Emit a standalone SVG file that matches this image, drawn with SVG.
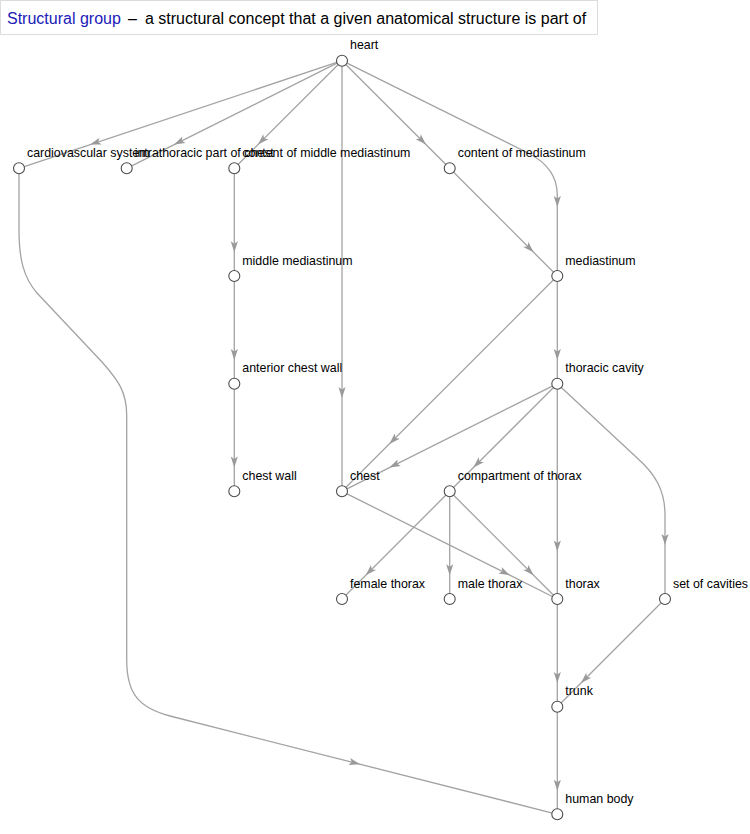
<svg xmlns="http://www.w3.org/2000/svg" xmlns:xlink="http://www.w3.org/1999/xlink" width="750" height="834" viewBox="0 0 750 834">
<style>
.e{fill:none;stroke:#a3a3a3;stroke-width:1.3}
.a{fill:#9a9a9a}
.n circle{fill:#fff;stroke:#4d4d4d;stroke-width:1.1}
.n text{font-family:"Liberation Sans",Arial,Helvetica,sans-serif;font-size:12.4px;fill:#000}
.t{font-family:"Liberation Sans",Arial,Helvetica,sans-serif;font-size:16px}
</style>
<defs>
<path id="ah" d="M0,0 L-11,-3.6 L-8.5,0 L-11,3.6 Z"/>
</defs>
<g id="title">
<rect x="0.5" y="0.5" width="597" height="34" fill="#fff" stroke="#dcdcdc"/>
<text class="t" x="7" y="24" fill="#2020b8">Structural group</text>
<text class="t" x="128" y="24" fill="#000">–</text>
<text class="t" x="145" y="24" fill="#000">a structural concept that a given anatomical structure is part of</text>
</g>
<g id="edges">
<path class="e" d="M342,60.7 L19,168.3"/>
<path class="e" d="M342,60.7 L126.7,168.3"/>
<path class="e" d="M342,60.7 L234.3,168.3"/>
<path class="e" d="M342,60.7 L342,491.3"/>
<path class="e" d="M342,60.7 L449.7,168.3"/>
<path class="e" d="M342,60.7 L528,153 C548,163 557.3,178 557.3,195 L557.3,276"/>
<path class="e" d="M234.3,168.3 L234.3,276"/>
<path class="e" d="M234.3,276 L234.3,383.7"/>
<path class="e" d="M234.3,383.7 L234.3,491.3"/>
<path class="e" d="M449.7,168.3 L557.3,276"/>
<path class="e" d="M557.3,276 L557.3,383.7"/>
<path class="e" d="M557.3,276 L342,491.3"/>
<path class="e" d="M557.3,383.7 L342,491.3"/>
<path class="e" d="M557.3,383.7 L449.7,491.3"/>
<path class="e" d="M557.3,383.7 L557.3,599"/>
<path class="e" d="M557.3,383.7 L638,458.7 C655,474 665,490 665,515 L665,599"/>
<path class="e" d="M342,491.3 L557.3,599"/>
<path class="e" d="M449.7,491.3 L342,599"/>
<path class="e" d="M449.7,491.3 L449.7,599"/>
<path class="e" d="M449.7,491.3 L557.3,599"/>
<path class="e" d="M557.3,599 L557.3,706.7"/>
<path class="e" d="M665,599 L557.3,706.7"/>
<path class="e" d="M557.3,706.7 L557.3,814.3"/>
<path class="e" d="M19,168.3 L19,230 C19,260 24,278 37,293 L102,362 C118,380 126.7,392 126.7,415 L126.7,660 C126.7,695 140,708 170,716 L557.3,814.3"/>
<g class="a">
<use xlink:href="#ah" transform="translate(90.1,144.6) rotate(161.58)"/>
<use xlink:href="#ah" transform="translate(174.1,144.6) rotate(153.44)"/>
<use xlink:href="#ah" transform="translate(258,144.6) rotate(135)"/>
<use xlink:href="#ah" transform="translate(342,398) rotate(90)"/>
<use xlink:href="#ah" transform="translate(426,144.6) rotate(45)"/>
<use xlink:href="#ah" transform="translate(557.3,207) rotate(90)"/>
<use xlink:href="#ah" transform="translate(234.3,252.3) rotate(90)"/>
<use xlink:href="#ah" transform="translate(234.3,360) rotate(90)"/>
<use xlink:href="#ah" transform="translate(234.3,467.6) rotate(90)"/>
<use xlink:href="#ah" transform="translate(533.6,252.3) rotate(45)"/>
<use xlink:href="#ah" transform="translate(557.3,360) rotate(90)"/>
<use xlink:href="#ah" transform="translate(389.4,443.9) rotate(135)"/>
<use xlink:href="#ah" transform="translate(389.4,467.6) rotate(153.44)"/>
<use xlink:href="#ah" transform="translate(473.4,467.6) rotate(135)"/>
<use xlink:href="#ah" transform="translate(557.3,551.6) rotate(90)"/>
<use xlink:href="#ah" transform="translate(665,545) rotate(90)"/>
<use xlink:href="#ah" transform="translate(509.9,575.2) rotate(26.57)"/>
<use xlink:href="#ah" transform="translate(365.7,575.2) rotate(135)"/>
<use xlink:href="#ah" transform="translate(449.7,575.2) rotate(90)"/>
<use xlink:href="#ah" transform="translate(533.6,575.2) rotate(45)"/>
<use xlink:href="#ah" transform="translate(557.3,683) rotate(90)"/>
<use xlink:href="#ah" transform="translate(581,683) rotate(135)"/>
<use xlink:href="#ah" transform="translate(557.3,790.7) rotate(90)"/>
<use xlink:href="#ah" transform="translate(360,764.2) rotate(14.24)"/>
</g>
</g>
<g id="heart" class="n"><circle cx="342" cy="60.7" r="5.5"/><text x="350" y="49.4">heart</text></g>
<g id="cardiovascular-system" class="n"><circle cx="19" cy="168.3" r="5.5"/><text x="27" y="157">cardiovascular system</text></g>
<g id="intrathoracic-part-of-chest" class="n"><circle cx="126.7" cy="168.3" r="5.5"/><text x="134.7" y="157">intrathoracic part of chest</text></g>
<g id="content-of-middle-mediastinum" class="n"><circle cx="234.3" cy="168.3" r="5.5"/><text x="242.3" y="157">content of middle mediastinum</text></g>
<g id="content-of-mediastinum" class="n"><circle cx="449.7" cy="168.3" r="5.5"/><text x="457.7" y="157">content of mediastinum</text></g>
<g id="middle-mediastinum" class="n"><circle cx="234.3" cy="276" r="5.5"/><text x="242.3" y="264.7">middle mediastinum</text></g>
<g id="mediastinum" class="n"><circle cx="557.3" cy="276" r="5.5"/><text x="565.3" y="264.7">mediastinum</text></g>
<g id="anterior-chest-wall" class="n"><circle cx="234.3" cy="383.7" r="5.5"/><text x="242.3" y="372.4">anterior chest wall</text></g>
<g id="thoracic-cavity" class="n"><circle cx="557.3" cy="383.7" r="5.5"/><text x="565.3" y="372.4">thoracic cavity</text></g>
<g id="chest-wall" class="n"><circle cx="234.3" cy="491.3" r="5.5"/><text x="242.3" y="480">chest wall</text></g>
<g id="chest" class="n"><circle cx="342" cy="491.3" r="5.5"/><text x="350" y="480">chest</text></g>
<g id="compartment-of-thorax" class="n"><circle cx="449.7" cy="491.3" r="5.5"/><text x="457.7" y="480">compartment of thorax</text></g>
<g id="female-thorax" class="n"><circle cx="342" cy="599" r="5.5"/><text x="350" y="587.7">female thorax</text></g>
<g id="male-thorax" class="n"><circle cx="449.7" cy="599" r="5.5"/><text x="457.7" y="587.7">male thorax</text></g>
<g id="thorax" class="n"><circle cx="557.3" cy="599" r="5.5"/><text x="565.3" y="587.7">thorax</text></g>
<g id="set-of-cavities" class="n"><circle cx="665" cy="599" r="5.5"/><text x="673" y="587.7">set of cavities</text></g>
<g id="trunk" class="n"><circle cx="557.3" cy="706.7" r="5.5"/><text x="565.3" y="695.4">trunk</text></g>
<g id="human-body" class="n"><circle cx="557.3" cy="814.3" r="5.5"/><text x="565.3" y="803">human body</text></g>
</svg>
